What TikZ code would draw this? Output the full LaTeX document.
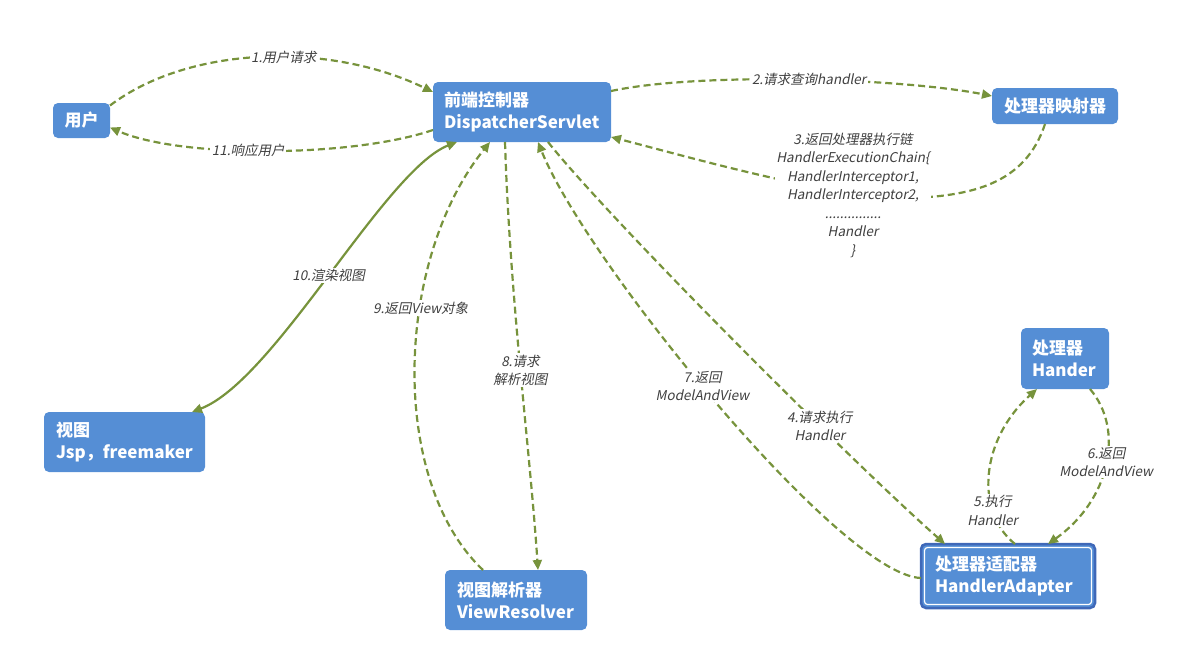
\documentclass[tikz,border=0pt]{standalone}
\usepackage{fontspec}
\setmainfont{Noto Sans CJK SC}
\newfontfamily\labfont[FakeSlant=0.2]{Noto Sans CJK SC}
\usetikzlibrary{arrows.meta}
\definecolor{boxblue}{HTML}{558ED5}
\definecolor{edgegreen}{HTML}{77933C}
\definecolor{labgray}{HTML}{404040}
\definecolor{adborder}{HTML}{3F68B8}
\tikzset{
  box/.style={fill=boxblue, rounded corners=5pt, text=white, outer sep=0pt,
    font=\bfseries\fontsize{17}{22}\selectfont, align=left, inner xsep=11pt, inner ysep=0pt},
  cbox/.style={box, align=center, inner xsep=0pt},
  flow/.style={draw=edgegreen, line width=2.2pt, dash pattern=on 7pt off 4pt,
    -{Triangle[length=10pt,width=9pt]}},
  solidflow/.style={draw=edgegreen, line width=2.2pt,
    {Triangle[length=10pt,width=9pt]}-{Triangle[length=10pt,width=9pt]}},
  lab/.style={font=\labfont\fontsize{13.5}{18.5}\selectfont, text=labgray, fill=white,
    inner sep=1.5pt, align=center}
}
\begin{document}
\begin{tikzpicture}[x=1pt,y=-1pt]
\useasboundingbox (0,0) rectangle (1184,649);
% nodes
\node[cbox, minimum width=57pt, minimum height=35pt] (user) at (81.5,120.5) {用户};
\node[box, text width=156pt, minimum height=60pt] (ds) at (522,112) {前端控制器\\DispatcherServlet};
\node[cbox, minimum width=126pt, minimum height=36pt] (hm) at (1055,106) {处理器映射器};
\node[box, text width=66pt, inner xsep=11pt, minimum height=61pt] (h) at (1065,358.5) {处理器\\Hander};
\node[box, text width=137pt, inner xsep=12pt, minimum height=60pt] (v) at (124.5,442) {视图\\Jsp，freemaker};
\node[box, text width=118pt, inner xsep=12pt, minimum height=60pt] (vr) at (516,600) {视图解析器\\ViewResolver};
\node[box, text width=146pt, inner xsep=14pt, minimum height=64pt, draw=adborder, line width=2.5pt] (ad) at (1008,576) {处理器适配器\\HandlerAdapter};
\draw[white, line width=1.2pt, rounded corners=3pt] ([xshift=3.5pt,yshift=-3.5pt]ad.north west) rectangle ([xshift=-3.5pt,yshift=3.5pt]ad.south east);

% edges
\draw[flow] ([yshift=15pt]user.east) .. controls (190,45) and (330,42) .. ([yshift=20pt]ds.west)
  node[lab, pos=0.56] {1.用户请求};
\draw[flow] ([yshift=-18pt]ds.west) .. controls (350,158) and (180,158) .. ([yshift=-7pt]user.east)
  node[lab, pos=0.55] {11.响应用户};
\draw[flow] ([yshift=21pt]ds.east) .. controls (700,72) and (900,78) .. ([yshift=10pt]hm.west)
  node[lab, pos=0.52] {2.请求查询handler};
\draw[flow] ([xshift=-10pt]hm.south) .. controls (1025,185) and (970,195) .. (915,198)
  .. controls (840,200) and (700,160) .. ([yshift=-25pt]ds.east);
\node[lab] (l3) at (853,195) {3.返回处理器执行链\\HandlerExecutionChain\{\\HandlerInterceptor1,\\HandlerInterceptor2,\\...............\\Handler\\\}};
\draw[flow] ([xshift=115pt]ds.south west) .. controls (610,220) and (850,460) .. ([xshift=-63pt]ad.north)
  node[lab, pos=0.68] {4.请求执行\\Handler};
\draw[flow] ([xshift=7pt]ad.north) .. controls (975,512) and (980,440) .. ([xshift=-28pt]h.south)
  node[lab, pos=0.27] {5.执行\\Handler};
\draw[flow] ([xshift=25pt]h.south) .. controls (1125,430) and (1110,500) .. ([xshift=40pt]ad.north)
  node[lab, pos=0.48] {6.返回\\ModelAndView};
\draw[flow] ([yshift=-2pt]ad.west) .. controls (840,575) and (585,260) .. ([xshift=105pt]ds.south west)
  node[lab, pos=0.53] {7.返回\\ModelAndView};
\draw[flow] ([xshift=72pt]ds.south west) .. controls (510,300) and (530,450) .. ([xshift=93pt]vr.north west)
  node[lab, pos=0.5] {8.请求\\解析视图};
\draw[flow] ([xshift=38pt]vr.north west) .. controls (388,480) and (395,260) .. ([xshift=57pt]ds.south west)
  node[lab, pos=0.62] {9.返回View对象};
\draw[solidflow] ([xshift=24pt]ds.south west) .. controls (385,170) and (275,380) .. ([xshift=-13pt]v.north east)
  node[lab, pos=0.5] {10.渲染视图};
\end{tikzpicture}
\end{document}
